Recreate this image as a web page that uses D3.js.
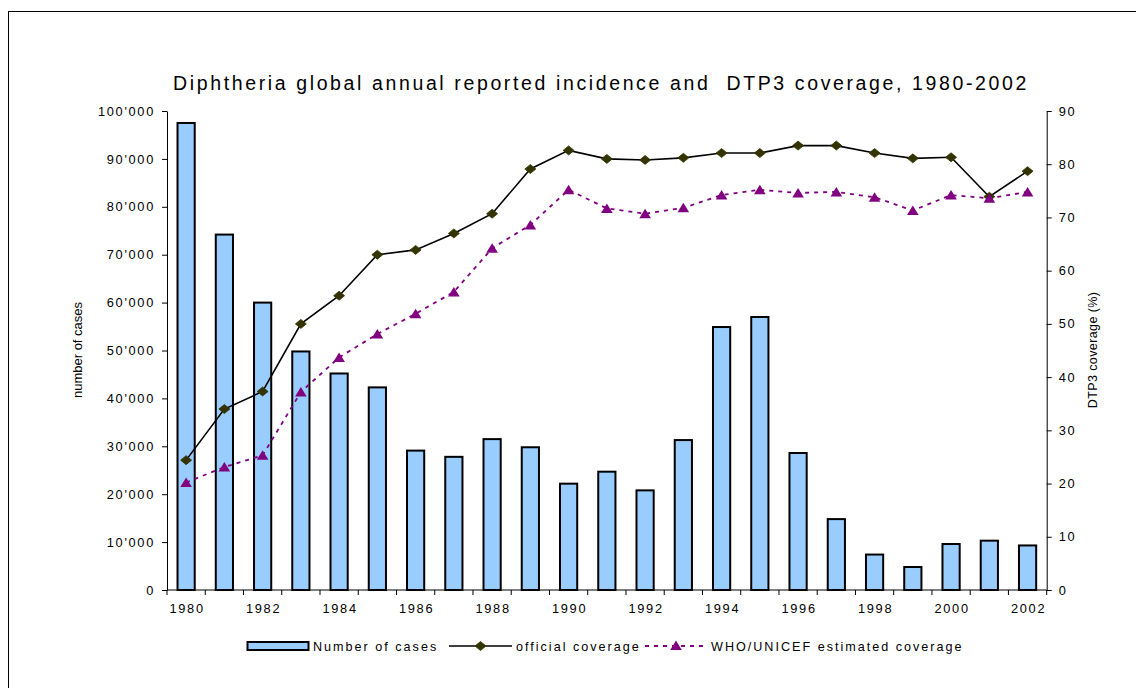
<!DOCTYPE html>
<html>
<head>
<meta charset="utf-8">
<script src="https://cdn.jsdelivr.net/npm/d3@7"></script>
<style>
  html, body { margin: 0; padding: 0; background: #fff; }
  svg { display: block; font-family: "Liberation Sans", Arial, sans-serif; }
</style>
</head>
<body>
<svg id="chart" width="1136" height="688"></svg>
<script>
// ---- data ----
const years = ["1980","1981","1982","1983","1984","1985","1986","1987","1988","1989","1990","1991",
               "1992","1993","1994","1995","1996","1997","1998","1999","2000","2001","2002"];
const cases = [97500, 74200, 60000, 49800, 45200, 42300, 29100, 27800, 31500, 29800, 22200, 24700,
               20800, 31300, 54900, 57000, 28600, 14800, 7400, 4800, 9600, 10300, 9300];
const officialCoverage = [24.4, 34.0, 37.3, 50.0, 55.3, 63.0, 63.9, 67.0, 70.7, 79.1, 82.6, 81.0,
                          80.8, 81.2, 82.1, 82.1, 83.5, 83.5, 82.1, 81.1, 81.3, 73.9, 78.7];
const whoCoverage = [20.2, 23.1, 25.3, 37.2, 43.7, 48.1, 51.9, 56.0, 64.2, 68.6, 75.2, 71.7,
                     70.7, 71.8, 74.2, 75.2, 74.6, 74.8, 73.8, 71.3, 74.2, 73.6, 74.8];
const leftTicks = [0, 10000, 20000, 30000, 40000, 50000, 60000, 70000, 80000, 90000, 100000];
const rightTicks = [0, 10, 20, 30, 40, 50, 60, 70, 80, 90];
const xTickLabels = ["1980","1982","1984","1986","1988","1990","1992","1994","1996","1998","2000","2002"];
const titleText = "Diphtheria global annual reported incidence and  DTP3 coverage, 1980-2002";
const leftTitle = "number of cases";
const rightTitle = "DTP3 coverage (%)";
const legendLabels = ["Number of cases", "official coverage", "WHO/UNICEF estimated coverage"];

// ---- layout ----
const L = 167, R = 1046.7, T = 111, B = 590;
const svg = d3.select("#chart");

// outer frame (extends past the window on right/bottom)
svg.append("rect").attr("x", 8.5).attr("y", 11.5).attr("width", 1300).attr("height", 1000)
  .attr("fill", "none").attr("stroke", "#000").attr("stroke-width", 1);

const x = d3.scaleBand().domain(years).range([L, R]).paddingInner(0.55).paddingOuter(0.275);
const yL = d3.scaleLinear().domain([0, 100000]).range([B, T]);
const yR = d3.scaleLinear().domain([0, 90]).range([B, T]);
const cx = d => x(d) + x.bandwidth() / 2;

const fmt = v => {
  const s = String(v);
  return s.length > 3 ? s.slice(0, -3) + "'" + s.slice(-3) : s;
};

// bars
svg.append("g").selectAll("rect").data(years).join("rect")
  .attr("x", (d) => x(d))
  .attr("y", (d, i) => yL(cases[i]))
  .attr("width", x.bandwidth())
  .attr("height", (d, i) => yL(0) - yL(cases[i]))
  .attr("fill", "#99ccff").attr("stroke", "#000").attr("stroke-width", 2);

// left axis
const gL = svg.append("g").attr("transform", `translate(${L},0)`)
  .call(d3.axisLeft(yL).tickValues(leftTicks).tickFormat(fmt).tickSize(5).tickPadding(7).tickSizeOuter(0));
// right axis
const gR = svg.append("g").attr("transform", `translate(${R},0)`)
  .call(d3.axisRight(yR).tickValues(rightTicks).tickSize(5).tickPadding(7).tickSizeOuter(0));
// bottom axis: labels under bars
const gB = svg.append("g").attr("transform", `translate(0,${B})`)
  .call(d3.axisBottom(x).tickValues(xTickLabels).tickSize(0).tickPadding(14).tickSizeOuter(0));
gB.select(".domain").attr("d", `M${L},0H${R}`);
// bottom tick marks at category boundaries
const edges = years.map(d => x(d) - x.step() * x.paddingInner() / 2).concat([R]);
svg.append("g").selectAll("line").data(edges).join("line")
  .attr("x1", d => d).attr("x2", d => d).attr("y1", B).attr("y2", B + 5)
  .attr("stroke", "#000");

[gL, gR, gB].forEach(g => {
  g.selectAll("text").attr("font-size", 12.8).attr("fill", "#000")
    .attr("font-family", "Liberation Sans, Arial, sans-serif").style("letter-spacing", "1.7px");
  g.select(".domain").attr("stroke", "#000");
  g.selectAll(".tick line").attr("stroke", "#000");
});
gB.selectAll("text").attr("dx", 1);

// lines
const lineOff = d3.line().x((d, i) => cx(years[i])).y(d => yR(d));
svg.append("path").datum(officialCoverage).attr("d", lineOff)
  .attr("fill", "none").attr("stroke", "#000").attr("stroke-width", 1.6);
const diamond = "M0,-4.5L5.5,0L0,4.5L-5.5,0Z";
const triangle = "M0,-5L5.8,4.5L-5.8,4.5Z";
svg.append("g").selectAll("path").data(officialCoverage).join("path")
  .attr("d", diamond)
  .attr("transform", (d, i) => `translate(${cx(years[i])},${yR(d)})`)
  .attr("fill", "#333300").attr("stroke", "#333300").attr("stroke-width", 0.8);

svg.append("path").datum(whoCoverage).attr("d", lineOff)
  .attr("fill", "none").attr("stroke", "#800080").attr("stroke-width", 1.8)
  .attr("stroke-dasharray", "4,5");
svg.append("g").selectAll("path").data(whoCoverage).join("path")
  .attr("d", triangle)
  .attr("transform", (d, i) => `translate(${cx(years[i])},${yR(d)})`)
  .attr("fill", "#800080");

// title
svg.append("text").attr("x", 601).attr("y", 90).attr("text-anchor", "middle")
  .attr("font-size", 19.5).style("letter-spacing", "2.62px").style("white-space", "pre")
  .attr("fill", "#000").text(titleText);

// axis titles
svg.append("text").attr("transform", "translate(82,350) rotate(-90)")
  .attr("text-anchor", "middle").attr("font-size", 13).attr("fill", "#000").text(leftTitle);
svg.append("text").attr("transform", "translate(1097,350) rotate(-90)")
  .attr("text-anchor", "middle").attr("font-size", 12.5).style("letter-spacing", "0.4px")
  .attr("fill", "#000").text(rightTitle);

// legend
const lg = svg.append("g").attr("font-size", 12.6).style("letter-spacing", "2px");
lg.append("rect").attr("x", 247.5).attr("y", 642).attr("width", 61).attr("height", 8)
  .attr("fill", "#99ccff").attr("stroke", "#000").attr("stroke-width", 2);
lg.append("text").attr("x", 313).attr("y", 651).text(legendLabels[0]);
lg.append("line").attr("x1", 449).attr("x2", 512).attr("y1", 646).attr("y2", 646)
  .attr("stroke", "#000").attr("stroke-width", 1.6);
lg.append("path").attr("d", diamond).attr("transform", "translate(480.5,646)")
  .attr("fill", "#333300").attr("stroke", "#333300").attr("stroke-width", 0.8);
lg.append("text").attr("x", 516).attr("y", 651).text(legendLabels[1]);
lg.append("line").attr("x1", 645).attr("x2", 708).attr("y1", 646).attr("y2", 646)
  .attr("stroke", "#800080").attr("stroke-width", 1.8).attr("stroke-dasharray", "4,5");
lg.append("path").attr("d", triangle).attr("transform", "translate(676,645.5)")
  .attr("fill", "#800080");
lg.append("text").attr("x", 711).attr("y", 651).text(legendLabels[2]);
</script>
</body>
</html>
